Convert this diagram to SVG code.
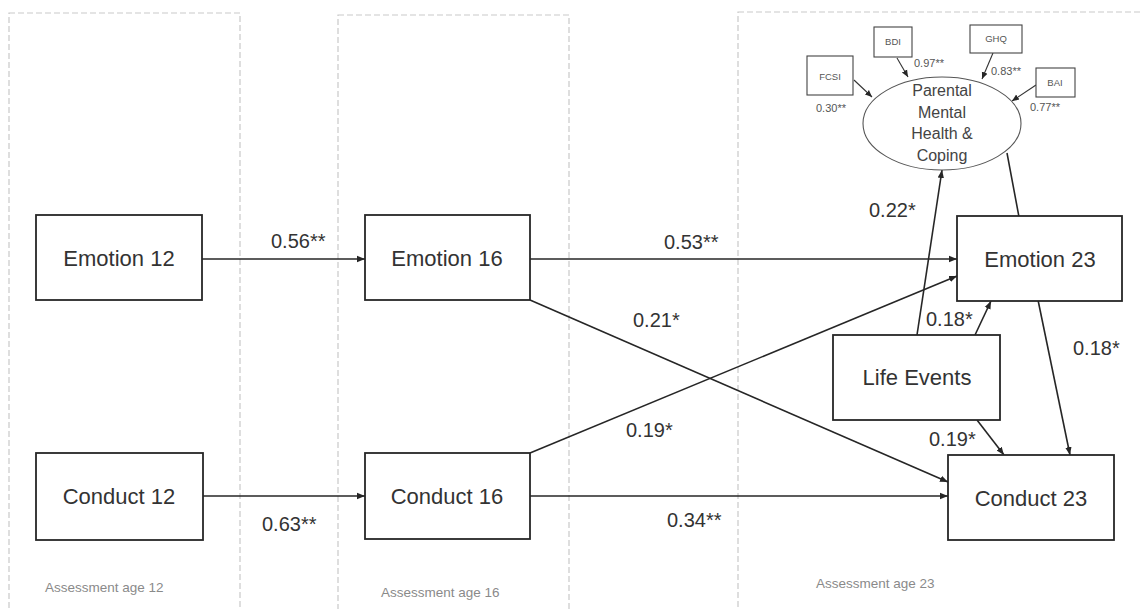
<svg xmlns="http://www.w3.org/2000/svg" width="1141" height="609" viewBox="0 0 1141 609">
<style>
.panel{fill:none;stroke:#c9c9c9;stroke-width:1.2;stroke-dasharray:6 3}
.box{fill:#fff;stroke:#262626;stroke-width:1.8}
.sbox{fill:#fff;stroke:#444;stroke-width:1.1}
.t{font-family:"Liberation Sans",Arial,sans-serif;font-size:22px;fill:#333;text-anchor:middle}
.lab{font-family:"Liberation Sans",Arial,sans-serif;font-size:20px;fill:#333}
.el{font-family:"Liberation Sans",Arial,sans-serif;font-size:16px;fill:#444;text-anchor:middle}
.st{font-family:"Liberation Sans",Arial,sans-serif;font-size:9.5px;fill:#555;text-anchor:middle}
.sl{font-family:"Liberation Sans",Arial,sans-serif;font-size:11px;fill:#555}
.pl{font-family:"Liberation Sans",Arial,sans-serif;font-size:13.5px;fill:#8a8a8a}
.c{fill:none;stroke:#262626;stroke-width:1.6}
.cs{fill:none;stroke:#333;stroke-width:1.1}
</style>
<defs>
<marker id="ah" markerUnits="userSpaceOnUse" markerWidth="9" markerHeight="8" refX="8" refY="4" orient="auto">
<path d="M0,0.8 L8,4 L0,7.2 Z" fill="#262626"/>
</marker>
<marker id="ahs" markerUnits="userSpaceOnUse" markerWidth="8" markerHeight="8" refX="7" refY="4" orient="auto">
<path d="M0,1 L7,4 L0,7 Z" fill="#262626"/>
</marker>
</defs>
<rect width="1141" height="609" fill="#fff"/>
<g id="panels">
<rect class="panel" x="9" y="13" width="231" height="620"/>
<rect class="panel" x="338" y="15" width="231" height="620"/>
<rect class="panel" x="738" y="12" width="420" height="620"/>
<text class="pl" x="45" y="592">Assessment age 12</text>
<text class="pl" x="381" y="597">Assessment age 16</text>
<text class="pl" x="816" y="588">Assessment age 23</text>
</g>
<g id="connectors">
<line class="c" x1="202" y1="259" x2="365" y2="259" marker-end="url(#ah)"/>
<line class="c" x1="203" y1="496" x2="365" y2="496" marker-end="url(#ah)"/>
<line class="c" x1="530" y1="259" x2="957" y2="259" marker-end="url(#ah)"/>
<line class="c" x1="530" y1="496" x2="948" y2="496" marker-end="url(#ah)"/>
<line class="c" x1="530" y1="300" x2="948" y2="482" marker-end="url(#ah)"/>
<line class="c" x1="530" y1="453" x2="957" y2="276" marker-end="url(#ah)"/>
<line class="c" x1="917" y1="335" x2="942" y2="170" marker-end="url(#ah)"/>
<line class="c" x1="975" y1="335" x2="991" y2="301" marker-end="url(#ah)"/>
<line class="c" x1="977" y1="420" x2="1004" y2="455" marker-end="url(#ah)"/>
<line class="c" x1="1007" y1="153" x2="1019" y2="217"/>
<line class="c" x1="1038" y1="300" x2="1070" y2="455" marker-end="url(#ah)"/>
<line class="cs" x1="854" y1="80" x2="872" y2="97" marker-end="url(#ahs)"/>
<line class="cs" x1="897" y1="58" x2="908" y2="77" marker-end="url(#ahs)"/>
<line class="cs" x1="993" y1="53" x2="982" y2="79" marker-end="url(#ahs)"/>
<line class="cs" x1="1036" y1="85" x2="1012" y2="101" marker-end="url(#ahs)"/>
<text class="lab" x="271" y="248">0.56**</text>
<text class="lab" x="262" y="531">0.63**</text>
<text class="lab" x="664" y="249">0.53**</text>
<text class="lab" x="633" y="327">0.21*</text>
<text class="lab" x="626" y="437">0.19*</text>
<text class="lab" x="667" y="527">0.34**</text>
<text class="lab" x="869" y="217">0.22*</text>
<text class="lab" x="926" y="326">0.18*</text>
<text class="lab" x="929" y="446">0.19*</text>
<text class="lab" x="1073" y="355">0.18*</text>
<text class="sl" x="816" y="112">0.30**</text>
<text class="sl" x="914" y="67">0.97**</text>
<text class="sl" x="991" y="75">0.83**</text>
<text class="sl" x="1030" y="111">0.77**</text>
</g>
<g id="emotion12"><rect class="box" x="36" y="215" width="166" height="85"/><text class="t" x="119" y="266">Emotion 12</text></g>
<g id="emotion16"><rect class="box" x="365" y="215" width="165" height="85"/><text class="t" x="447" y="266">Emotion 16</text></g>
<g id="conduct12"><rect class="box" x="36" y="453" width="167" height="87"/><text class="t" x="119" y="504">Conduct 12</text></g>
<g id="conduct16"><rect class="box" x="365" y="453" width="165" height="86"/><text class="t" x="447" y="504">Conduct 16</text></g>
<g id="emotion23"><rect class="box" x="957" y="216" width="165" height="85"/><text class="t" x="1040" y="267">Emotion 23</text></g>
<g id="lifeevents"><rect class="box" x="833" y="335" width="167" height="85"/><text class="t" x="917" y="385">Life Events</text></g>
<g id="conduct23"><rect class="box" x="948" y="455" width="166" height="85"/><text class="t" x="1031" y="506">Conduct 23</text></g>
<g id="parental">
<ellipse cx="942" cy="123.5" rx="79" ry="46.5" fill="#fff" stroke="#555" stroke-width="1.1"/>
<text class="el" x="942" y="96">Parental</text>
<text class="el" x="942" y="118">Mental</text>
<text class="el" x="942" y="139">Health &amp;</text>
<text class="el" x="942" y="161">Coping</text>
</g>
<g id="fcsi"><rect class="sbox" x="807" y="56" width="46" height="39"/><text class="st" x="830" y="80">FCSI</text></g>
<g id="bdi"><rect class="sbox" x="874" y="27" width="38" height="30"/><text class="st" x="893" y="45">BDI</text></g>
<g id="ghq"><rect class="sbox" x="970" y="25" width="52" height="28"/><text class="st" x="996" y="42">GHQ</text></g>
<g id="bai"><rect class="sbox" x="1036" y="68" width="39" height="29"/><text class="st" x="1055" y="86">BAI</text></g>
</svg>
